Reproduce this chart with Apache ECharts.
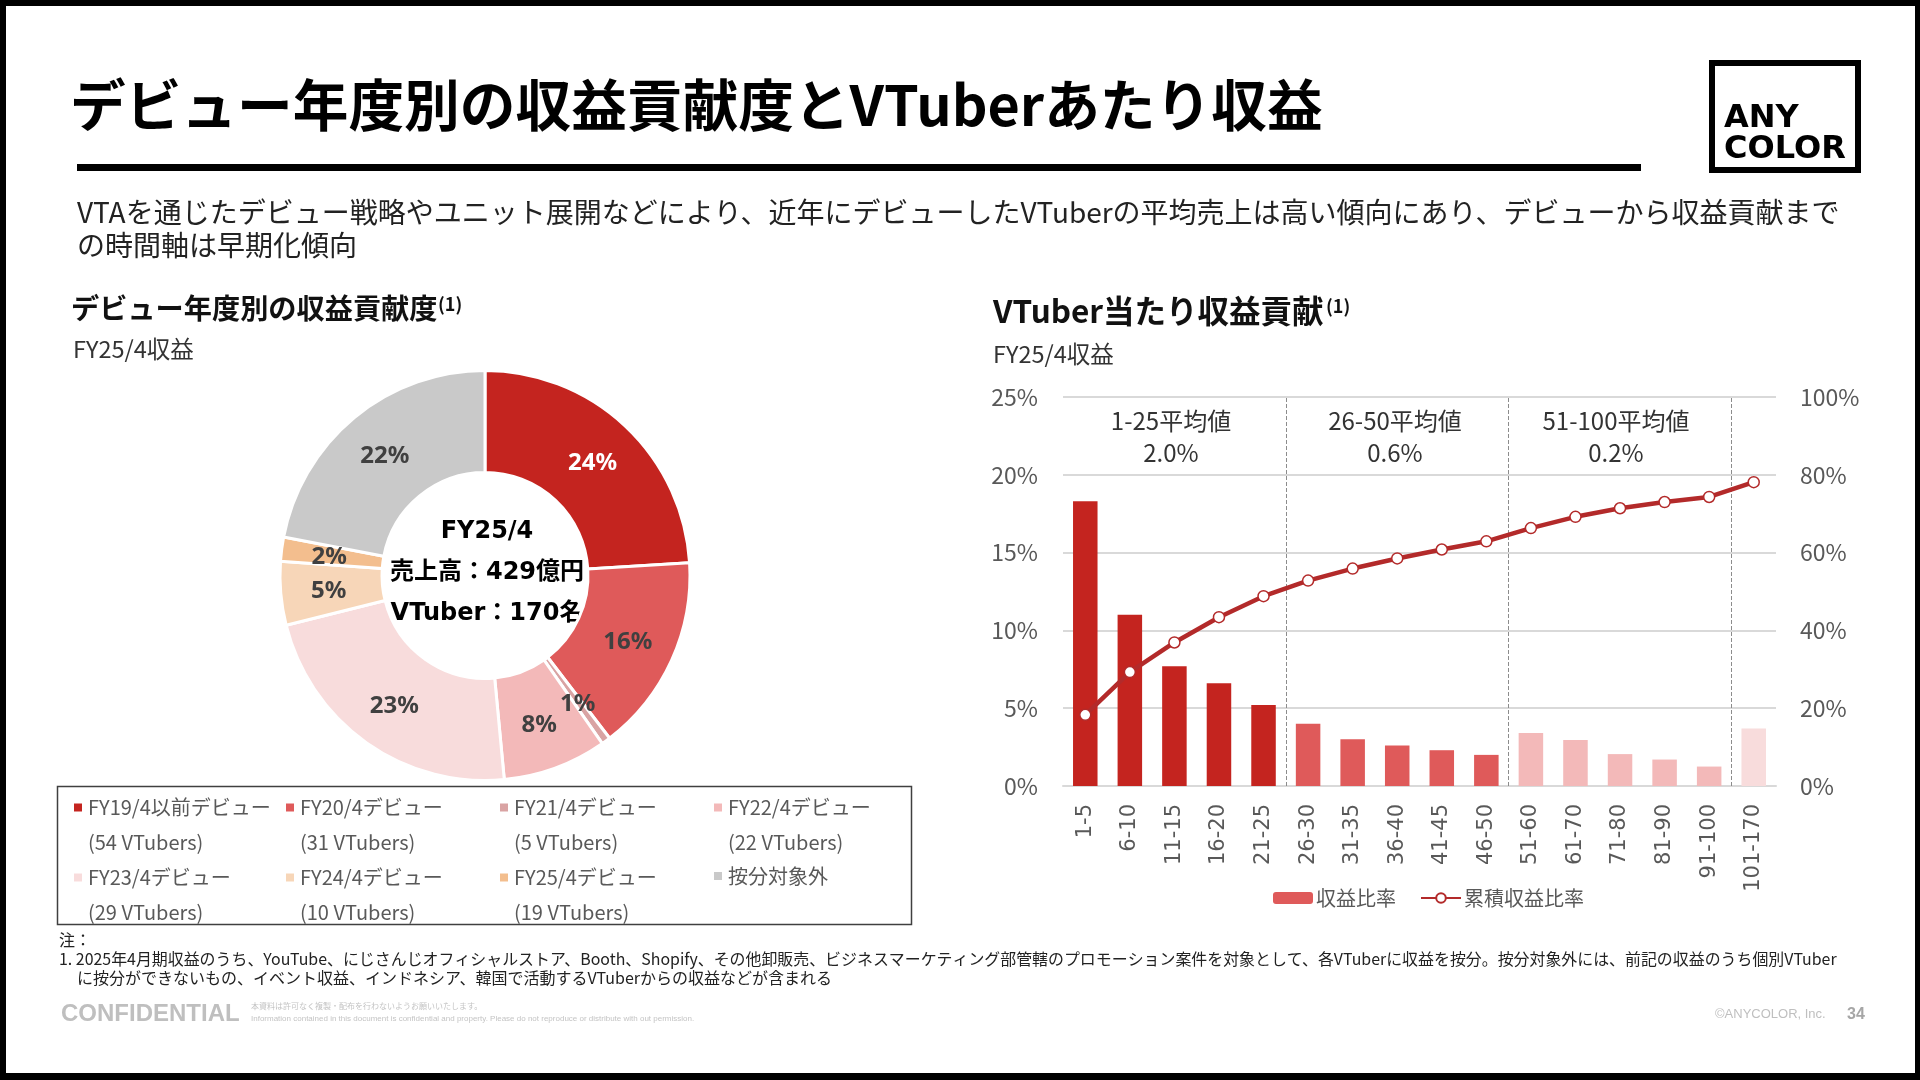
<!DOCTYPE html>
<html lang="ja">
<head>
<meta charset="utf-8">
<title>デビュー年度別の収益貢献度とVTuberあたり収益</title>
<script src="https://cdn.jsdelivr.net/npm/echarts@6/dist/echarts.min.js"></script>
<style>
    html, body { margin: 0; padding: 0; background: #fff; }
    #main { position: absolute; left: 0; top: 0; width: 1920px; height: 1080px; }
    #frame { position: absolute; left: 0; top: 0; width: 1920px; height: 1080px; box-sizing: border-box;
        border: solid #000; border-width: 6px 5px 7px 6px; pointer-events: none; }
</style>
</head>
<body>
<div id="main"></div>
<div id="frame"></div>
<script>
'use strict';
// 円グラフ
var pieNames = ['FY19/4以前デビュー', 'FY20/4デビュー', 'FY21/4デビュー', 'FY22/4デビュー', 'FY23/4デビュー', 'FY24/4デビュー', 'FY25/4デビュー', '按分対象外'];
var pieCounts = ['(54 VTubers)', '(31 VTubers)', '(5 VTubers)', '(22 VTubers)', '(29 VTubers)', '(10 VTubers)', '(19 VTubers)', ''];
var pieValues = [24.0, 15.6, 0.7, 8.2, 22.6, 5.0, 1.9, 22.0];
var pieColors = ['#C4241F', '#DF5A5A', '#D9A3A3', '#F3B9B9', '#F8DCDC', '#F7D6B8', '#F3BE8E', '#C9C9C9'];

// 棒・折れ線
var rankLabels = ['1-5', '6-10', '11-15', '16-20', '21-25', '26-30', '31-35', '36-40', '41-45', '46-50', '51-60', '61-70', '71-80', '81-90', '91-100', '101-170'];
var revenueShare = [18.3, 11.0, 7.7, 6.6, 5.2, 4.0, 3.0, 2.6, 2.3, 2.0, 3.4, 2.95, 2.05, 1.7, 1.25, 3.7];
var cumulativeShare = [18.3, 29.3, 36.9, 43.4, 48.8, 52.8, 55.9, 58.5, 60.8, 62.9, 66.3, 69.2, 71.4, 73.0, 74.3, 78.1];
var bandTitles = ['1-25平均値', '26-50平均値', '51-100平均値'];
var bandAverages = ['2.0%', '0.6%', '0.2%'];
var bandDividers = [5, 10, 15];

var FONT = '"Noto Sans CJK JP", "Noto Sans", sans-serif';
var GREY = '#595959';
var myChart = echarts.init(document.getElementById('main'));

function text(x, y, str, size, color, extra) {
    var style = { x: x, y: y, text: str, fontFamily: FONT, fontSize: size, fill: color, verticalAlign: 'middle' };
    for (var k in extra) { style[k] = extra[k]; }
    return { type: 'text', silent: true, style: style };
}

function bandColor(index) {
    if (index < 5) return '#C4241F';
    if (index < 10) return '#DF5A5A';
    if (index < 15) return '#F3B9B9';
    return '#F8DCDC';
}

// 凡例は枠内に4列2行で並べる
function pieLegends() {
    var colX = [72, 284, 498, 712];
    var rowY = [808, 878];
    return pieNames.map(function (name, i) {
        var hasCount = pieCounts[i] !== '';
        return {
            data: [name],
            left: colX[i % 4],
            top: rowY[Math.floor(i / 4)] - (hasCount ? 53 : 16),
            padding: 0,
            selectedMode: false,
            itemWidth: 10,
            itemHeight: 10,
            icon: 'rect',
            // 先頭の空行でアイコンを1行目の高さに揃える
            formatter: function (n) { return hasCount ? ' \n' + n + '\n' + pieCounts[i] : n; },
            textStyle: {
                fontFamily: FONT,
                fontSize: 20,
                color: GREY,
                lineHeight: hasCount ? 35 : 28
            }
        };
    });
}

function slideGraphics() {
    var list = [];
    list.push(text(70, 105, 'デビュー年度別の収益貢献度とVTuberあたり収益', 55.7, '#000', { fontWeight: 'bold' }));
    list.push({ type: 'rect', silent: true, shape: { x: 77, y: 164, width: 1564, height: 7 }, style: { fill: '#000' } });
    // ロゴ
    var logo = { fontFamily: '"DejaVu Sans", sans-serif', fontWeight: 'bold' };
    list.push({ type: 'rect', silent: true, shape: { x: 1712, y: 63, width: 146, height: 107 }, style: { fill: 'none', stroke: '#000', lineWidth: 6 } });
    list.push(text(1724, 119, 'ANY', 32, '#000', logo));
    list.push(text(1724, 150, 'COLOR', 32, '#000', logo));

    list.push(text(77, 212, 'VTAを通じたデビュー戦略やユニット展開などにより、近年にデビューしたVTuberの平均売上は高い傾向にあり、デビューから収益貢献まで', 28, '#222'));
    list.push(text(77, 245, 'の時間軸は早期化傾向', 28, '#222'));

    list.push(text(71, 308, 'デビュー年度別の収益貢献度', 28.2, '#111', { fontWeight: 'bold' }));
    list.push(text(438, 304, '(1)', 18, '#111', { fontWeight: 'bold' }));
    list.push(text(73, 349, 'FY25/4収益', 23.5, '#333'));
    list.push(text(993, 311, 'VTuber当たり収益貢献', 31.5, '#111', { fontWeight: 'bold' }));
    list.push(text(1326, 306, '(1)', 18, '#111', { fontWeight: 'bold' }));
    list.push(text(993, 354, 'FY25/4収益', 23.5, '#333'));

    // ドーナツ中央
    var center = { fontFamily: '"DejaVu Sans", "Noto Sans CJK JP", sans-serif', fontWeight: 'bold', align: 'center' };
    list.push(text(487, 532, 'FY25/4', 24, '#000', center));
    list.push(text(487, 573, '売上高：429億円', 24, '#000', center));
    list.push(text(487, 614, 'VTuber：170名', 24, '#000', center));

    // 凡例枠
    list.push({ type: 'rect', silent: true, shape: { x: 57.5, y: 786.5, width: 854, height: 138 }, style: { fill: 'none', stroke: '#404040', lineWidth: 1.5 } });

    // 区間ラベル
    var bandX = [1171, 1395, 1616];
    bandTitles.forEach(function (t, i) {
        list.push(text(bandX[i], 421, t, 24, '#333', { align: 'center' }));
        list.push(text(bandX[i], 453, bandAverages[i], 24, '#333', { align: 'center' }));
    });

    // 注記
    list.push(text(59, 940, '注：', 16, '#222'));
    list.push(text(59, 959, '1. 2025年4月期収益のうち、YouTube、にじさんじオフィシャルストア、Booth、Shopify、その他卸販売、ビジネスマーケティング部管轄のプロモーション案件を対象として、各VTuberに収益を按分。按分対象外には、前記の収益のうち個別VTuber', 15.93, '#222'));
    list.push(text(77, 978, 'に按分ができないもの、イベント収益、インドネシア、韓国で活動するVTuberからの収益などが含まれる', 16, '#222'));

    // フッター
    var arial = { fontFamily: '"Liberation Sans", Arial, sans-serif' };
    list.push(text(61, 1014, 'CONFIDENTIAL', 24, '#BFBFBF', { fontFamily: arial.fontFamily, fontWeight: 'bold' }));
    list.push(text(251, 1006, '本資料は許可なく複製・配布を行わないようお願いいたします。', 8, '#C4C4C4'));
    list.push(text(251, 1019, 'Information contained in this document is confidential and property. Please do not reproduce or distribute with out permission.', 8, '#C4C4C4', arial));
    list.push(text(1715, 1014, '©ANYCOLOR, Inc.', 13, '#BFBFBF', arial));
    list.push(text(1847, 1015, '34', 16, '#A6A6A6', { fontFamily: arial.fontFamily, fontWeight: 'bold' }));
    return list;
}

var chartLegend = {
    data: ['収益比率', '累積収益比率'],
    left: 1273,
    top: 888,
    padding: 0,
    itemWidth: 40,
    itemHeight: 12,
    itemGap: 24,
    selectedMode: false,
    textStyle: { fontFamily: FONT, fontSize: 20, color: GREY, padding: [0, 0, 0, -2] }
};

var option = {
    animation: false,
    color: pieColors,
    legend: pieLegends().concat([chartLegend]),
    grid: { left: 1063, right: 144, top: 397, height: 389, containLabel: false },
    xAxis: [
        {
            type: 'category',
            data: rankLabels,
            axisTick: { show: false },
            axisLine: { lineStyle: { color: '#D9D9D9', width: 2 } },
            axisLabel: { interval: 0, rotate: 90, margin: 18, color: GREY, fontFamily: '"DejaVu Sans", sans-serif', fontSize: 21 },
            splitLine: { show: false }
        },
        // 区切り線用の非表示軸（カテゴリの境界を数値で指定する）
        { type: 'value', min: 0, max: rankLabels.length, show: false }
    ],
    yAxis: [
        {
            type: 'value', min: 0, max: 25, interval: 5,
            axisLine: { show: false }, axisTick: { show: false },
            axisLabel: { formatter: '{value}%', margin: 25, color: GREY, fontFamily: FONT, fontSize: 23 },
            splitLine: { lineStyle: { color: '#D9D9D9', width: 2 } }
        },
        {
            type: 'value', min: 0, max: 100, interval: 20,
            axisLine: { show: false }, axisTick: { show: false },
            axisLabel: { formatter: '{value}%', margin: 24, color: GREY, fontFamily: FONT, fontSize: 23 },
            splitLine: { show: false }
        }
    ],
    series: [
        {
            type: 'pie',
            center: [485, 575.5],
            radius: [103, 205],
            startAngle: 90,
            avoidLabelOverlap: false,
            minShowLabelAngle: 0,
            itemStyle: { borderColor: '#fff', borderWidth: 3 },
            labelLine: { show: false },
            label: {
                position: 'inside',
                offset: [0, 2],
                formatter: function (p) { return Math.round(p.value) + '%'; },
                fontFamily: '"Noto Sans", sans-serif',
                fontWeight: 'bold',
                fontSize: 24,
                color: '#404040',
                textBorderWidth: 0
            },
            data: pieNames.map(function (name, i) {
                var item = { name: name, value: pieValues[i], itemStyle: { color: pieColors[i] } };
                if (i === 0) item.label = { color: '#fff' };
                return item;
            })
        },
        {
            name: '収益比率',
            type: 'bar',
            barWidth: '55%',
            itemStyle: { color: '#DF5A5A' },
            data: revenueShare.map(function (v, i) {
                return { value: v, itemStyle: { color: bandColor(i) } };
            })
        },
        {
            name: '累積収益比率',
            type: 'line',
            yAxisIndex: 1,
            symbol: 'circle',
            symbolSize: 11,
            lineStyle: { color: '#B32A2A', width: 4.5 },
            itemStyle: { color: '#fff', borderColor: '#B32A2A', borderWidth: 1.5 },
            z: 5,
            data: cumulativeShare
        },
        {
            name: '区切り',
            type: 'line',
            xAxisIndex: 1,
            data: [],
            markLine: {
                silent: true,
                symbol: 'none',
                label: { show: false },
                lineStyle: { color: '#8C8C8C', type: 'dashed', width: 1 },
                data: bandDividers.map(function (v) { return { xAxis: v }; })
            }
        }
    ],
    graphic: slideGraphics()
};
myChart.setOption(option);
</script>
</body>
</html>
